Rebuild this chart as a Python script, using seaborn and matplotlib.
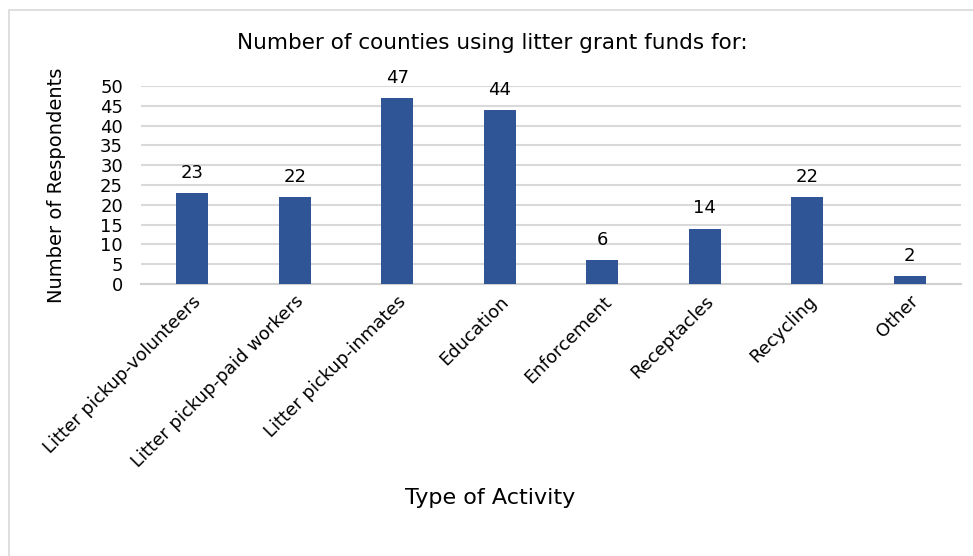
import matplotlib
matplotlib.use("Agg")
import matplotlib.pyplot as plt
import seaborn as sns
import pandas as pd
from matplotlib.patches import Rectangle

categories = ["Litter pickup-volunteers", "Litter pickup-paid workers", "Litter pickup-inmates",
              "Education", "Enforcement", "Receptacles", "Recycling", "Other"]
values = [23, 22, 47, 44, 6, 14, 22, 2]
y_ticks = [0, 5, 10, 15, 20, 25, 30, 35, 40, 45, 50]

title = "Number of counties using litter grant funds for:"
x_label = "Type of Activity"
y_label = "Number of Respondents"

sns.set_theme(style="white")
plt.rcParams['font.family'] = ['DejaVu Sans']
plt.rcParams['text.color'] = 'black'
plt.rcParams['xtick.color'] = 'black'
plt.rcParams['ytick.color'] = 'black'

df = pd.DataFrame({"cat": categories, "val": values})

W, H = 973, 556
fig = plt.figure(figsize=(W / 100, H / 100), dpi=100)
fig.patch.set_facecolor("white")

# outer chart border
fig.add_artist(Rectangle((9 / W, -0.05), 1.2, (H - 10) / H + 0.05, transform=fig.transFigure,
                         fill=False, edgecolor="#D9D9D9", linewidth=1.2))

ax = fig.add_axes([141 / W, (H - 284) / H, 820 / W, 198 / H])
sns.barplot(data=df, x="cat", y="val", color="#2F5597", width=0.31, ax=ax, saturation=1,
            linewidth=0, zorder=3)

ax.set_xlim(-0.5, len(categories) - 0.5)
ax.set_ylim(0, 50)
ax.set_yticks(y_ticks)
ax.set_yticklabels([str(t) for t in y_ticks], fontsize=13)
ax.yaxis.grid(True, color="#D9D9D9", linewidth=1.5, zorder=0)
ax.set_axisbelow(True)
for s in ["top", "right", "left"]:
    ax.spines[s].set_visible(False)
ax.spines["bottom"].set_color("#D0D0D0")
ax.spines["bottom"].set_linewidth(1.5)
ax.tick_params(axis="both", length=0)
ax.tick_params(axis="y", pad=13)
ax.tick_params(axis="x", pad=6)
ax.set_xticks(range(len(categories)))
ax.set_xticklabels(categories, rotation=45, ha="right", rotation_mode="anchor", fontsize=13)

for i, v in enumerate(values):
    ax.annotate(str(v), (i, v), xytext=(0, 8), textcoords="offset points",
                ha="center", va="bottom", fontsize=13, color="black", clip_on=False)

ax.set_xlabel("")
ax.set_ylabel("")
fig.text(492 / W, 1 - 43 / H, title, ha="center", va="center", fontsize=15.5)
fig.text(490 / W, 1 - 498 / H, x_label, ha="center", va="center", fontsize=16)
fig.text(56 / W, 1 - 185 / H, y_label, ha="center", va="center", rotation=90, fontsize=14)

fig.savefig("out.png", dpi=100, facecolor="white")
